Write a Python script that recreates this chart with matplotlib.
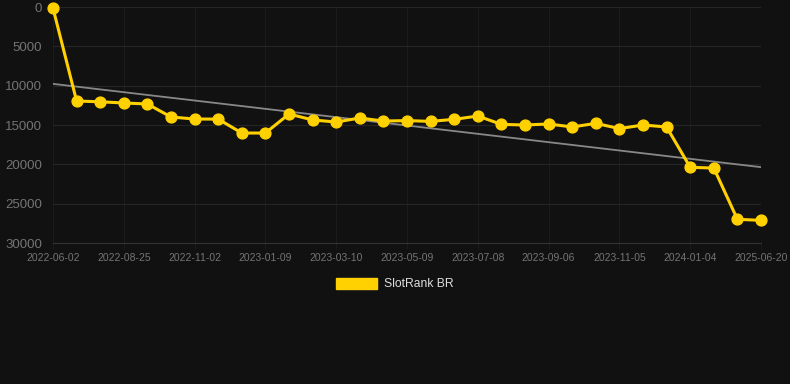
import numpy as np
import matplotlib.pyplot as plt
from matplotlib.patches import Patch

plt.rcParams["font.family"] = ["Liberation Sans", "DejaVu Sans"]

# Palette
SURFACE = "#111111"
HGRID = "#252525"
VGRID = "#1b1b1b"
BASELINE = "#333333"
TICK_INK = "#747474"
LEGEND_INK = "#dddddd"
GOLD = "#ffd100"
TREND = "#888888"

# Data (rank over time)
dates = [
    "2022-06-02", "2022-07-01", "2022-07-28", "2022-08-25", "2022-09-15",
    "2022-10-06", "2022-11-02", "2022-11-22", "2022-12-14", "2023-01-09",
    "2023-01-27", "2023-02-16", "2023-03-10", "2023-03-30", "2023-04-19",
    "2023-05-09", "2023-05-29", "2023-06-18", "2023-07-08", "2023-07-28",
    "2023-08-17", "2023-09-06", "2023-09-26", "2023-10-16", "2023-11-05",
    "2023-11-25", "2023-12-15", "2024-01-04", "2024-06-01", "2025-01-10",
    "2025-06-20",
]
ranks = [
    150, 11950, 12050, 12200, 12330,
    13980, 14240, 14250, 16020, 16020,
    13600, 14360, 14620, 14110, 14500,
    14440, 14540, 14280, 13860, 14920,
    15000, 14870, 15250, 14790, 15460,
    15000, 15250, 20380, 20470, 26990,
    27120,
]
series_label = "SlotRank BR"
y_ticks = [0, 5000, 10000, 15000, 20000, 25000, 30000]

x = np.arange(len(dates))
y = np.array(ranks)
slope, intercept = np.polyfit(x, y, 1)

fig = plt.figure(figsize=(7.9, 3.84), dpi=100)
fig.patch.set_facecolor(SURFACE)
ax = fig.add_axes([53 / 790, 1 - 243 / 384, 708 / 790, 236 / 384])
ax.set_facecolor(SURFACE)

ax.yaxis.grid(True, color=HGRID, linewidth=0.8, zorder=0)
ax.xaxis.grid(True, color=VGRID, linewidth=0.8, zorder=0)
ax.set_axisbelow(True)
for spine in ax.spines.values():
    spine.set_visible(False)
ax.spines["bottom"].set_visible(True)
ax.spines["bottom"].set_color(BASELINE)
ax.spines["bottom"].set_linewidth(0.8)

ax.plot(x, slope * x + intercept, color=TREND, linewidth=1.3, zorder=2)
ax.plot(x, y, color=GOLD, linewidth=2.2, marker="o", markersize=7.8,
        zorder=3, clip_on=False)

ax.set_xlim(0, len(dates) - 1)
ax.set_ylim(30000, 0)
ax.set_yticks(y_ticks)
ax.set_yticklabels([str(v) for v in y_ticks])
ax.set_xticks(x[::3])
ax.set_xticklabels(dates[::3])
ax.tick_params(axis="y", colors=TICK_INK, labelsize=9.5, length=0, pad=8)
ax.tick_params(axis="x", colors=TICK_INK, labelsize=7.5, length=4,
               color=VGRID, pad=3)

handle = Patch(facecolor=GOLD, edgecolor=GOLD)
fig.legend([handle], [series_label], loc="center", bbox_to_anchor=(0.5, 1 - 284 / 384),
           frameon=False, labelcolor=LEGEND_INK, fontsize=8.7,
           handlelength=3.4, handleheight=1.0, handletextpad=0.55)

fig.savefig("out.png", facecolor=fig.get_facecolor())
